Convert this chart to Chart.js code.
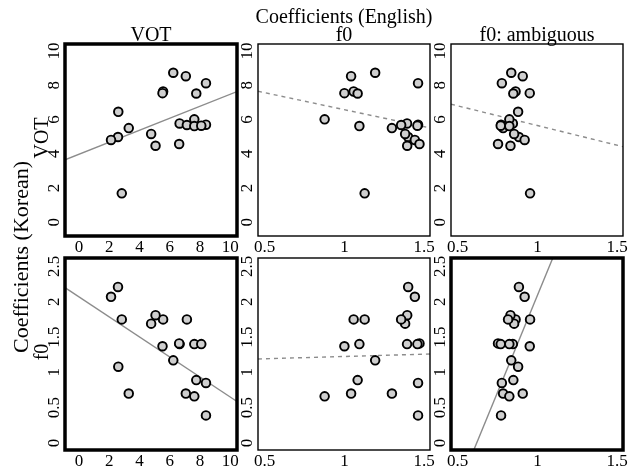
<!DOCTYPE html>
<html>
<head>
  <meta charset="utf-8">
  <title>Coefficients (English) vs Coefficients (Korean)</title>
  <script src="https://cdn.jsdelivr.net/npm/chart.js"></script>
  <style>
    html, body {
      margin: 0;
      padding: 0;
      background: #fff;
    }
    #wrap {
      position: relative;
      width: 640px;
      height: 472px;
    }
    .panel {
      position: absolute;
      left: 0;
      top: 0;
      width: 640px;
      height: 472px;
    }
  </style>
</head>
<body>
  <div id="wrap"></div>

  <script>
    // one entry per speaker (engF0 null = outside the plotted range)
    const engVOT   = [6.23, 7.06, 8.39, 8.39, 5.56, 5.52, 7.75, 2.60, 2.58, 2.12, 2.83, 3.29, 4.77, 5.06, 6.65, 6.62, 7.13, 7.62, 7.62, 8.08];
    const engF0    = [1.193, 1.042, 1.462, 1.462, 1.058, 1.000, 1.083, null, 1.400, 1.442, 1.127, 1.298, 1.381, 1.394, 1.393, 1.471, 1.356, 0.876, 1.094, 1.458];
    const engF0amb = [0.836, 0.908, 0.777, 0.772, 0.863, 0.952, 0.849, 0.879, 0.884, 0.920, 0.954, 0.785, 0.854, 0.831, 0.846, 0.753, 0.816, 0.824, 0.824, 0.770];
    const korVOT   = [8.73, 8.53, 8.12, 5.70, 7.64, 7.54, 7.52, 6.45, 4.98, 4.81, 1.69, 5.50, 5.16, 4.47, 5.77, 4.57, 5.68, 6.01, 5.62, 5.64];
    const korF0    = [1.17, 0.70, 0.85, 0.39, 1.75, 1.37, 0.89, 1.08, 2.21, 2.07, 1.75, 0.70, 1.69, 1.81, 1.40, 1.41, 1.75, 0.66, 1.40, 1.40];

    const colTitles = ['VOT', 'f0', 'f0: ambiguous'];
    const rowTitles = ['VOT', 'f0'];
    const votTicks = [0, 2, 4, 6, 8, 10];
    const engF0Ticks = [0.5, 1, 1.5];
    const korF0Ticks = [0, 0.5, 1, 1.5, 2, 2.5];

    // fitted lines: rows = Korean (VOT, f0), cols = English (VOT, f0, f0 ambiguous)
    const fitIntercept = [[3.97, 8.56, 7.95], [2.07, 1.16, -3.40]];
    const fitSlope = [[0.351, -1.985, -2.30], [-0.142, 0.065, 5.49]];
    const fitSignificant = [[true, false, false], [true, false, true]];

    const xValues = [engVOT, engF0, engF0amb];
    const yValues = [korVOT, korF0];
    const xTicks = [votTicks, engF0Ticks, engF0Ticks];
    const yTicks = [votTicks, korF0Ticks];
    const xRange = [[-0.92, 10.44], [0.458, 1.537], [0.458, 1.537]];
    const yRange = [[-0.8, 10.41], [-0.1, 2.62]];

    // panel frames in page pixels
    const colLeft = [65, 258, 451];
    const colRight = [237, 430, 623];
    const rowTop = [44, 258];
    const rowBottom = [236, 450];
    const AX = 24;

    const serif = '"Liberation Serif", "Times New Roman", serif';

    function framePlugin(r, c) {
      return {
        id: 'frame' + r + c,
        afterDraw(chart) {
          const ctx = chart.ctx;
          const a = chart.chartArea;
          const ys = chart.scales.y;
          ctx.save();
          ctx.font = '17px ' + serif;
          ctx.fillStyle = '#000';
          ctx.textAlign = 'center';
          ctx.textBaseline = 'middle';
          yTicks[r].forEach(v => {
            ctx.save();
            ctx.translate(a.left - 10, ys.getPixelForValue(v));
            ctx.rotate(-Math.PI / 2);
            ctx.fillText(String(v), 0, 0);
            ctx.restore();
          });
          ctx.strokeStyle = '#000';
          ctx.lineWidth = fitSignificant[r][c] ? 3.5 : 1.4;
          ctx.strokeRect(a.left, a.top, a.right - a.left, a.bottom - a.top);
          ctx.restore();
        }
      };
    }

    // figure labels, drawn once on the first canvas
    const labelPlugin = {
      id: 'labels',
      afterDraw(chart) {
        const ctx = chart.ctx;
        ctx.save();
        ctx.fillStyle = '#000';
        ctx.textAlign = 'center';
        ctx.textBaseline = 'alphabetic';
        ctx.font = '20px ' + serif;
        ctx.fillText('Coefficients (English)', (colLeft[1] + colRight[1]) / 2, 23);
        colTitles.forEach((t, c) => {
          ctx.fillText(t, (colLeft[c] + colRight[c]) / 2, 41);
        });
        rowTitles.forEach((t, r) => {
          ctx.save();
          ctx.translate(48, (rowTop[r] + rowBottom[r]) / 2 - 2);
          ctx.rotate(-Math.PI / 2);
          ctx.fillText(t, 0, 0);
          ctx.restore();
        });
        ctx.font = '22px ' + serif;
        ctx.save();
        ctx.translate(28, 257);
        ctx.rotate(-Math.PI / 2);
        ctx.fillText('Coefficients (Korean)', 0, 0);
        ctx.restore();
        ctx.restore();
      }
    };

    const wrap = document.getElementById('wrap');

    for (let r = 0; r < 2; r++) {
      for (let c = 0; c < 3; c++) {
        const div = document.createElement('div');
        div.className = 'panel';
        const canvas = document.createElement('canvas');
        div.appendChild(canvas);
        wrap.appendChild(div);

        const points = [];
        xValues[c].forEach((x, i) => {
          if (x !== null) points.push({ x: x, y: yValues[r][i] });
        });
        const a = fitIntercept[r][c];
        const b = fitSlope[r][c];
        const fit = xRange[c].map(x => ({ x: x, y: a + b * x }));

        const plugins = [framePlugin(r, c)];
        if (r === 0 && c === 0) plugins.push(labelPlugin);

        new Chart(canvas, {
          type: 'scatter',
          data: {
            datasets: [{
              data: points,
              pointRadius: 4.3,
              pointHoverRadius: 4.3,
              pointBackgroundColor: '#cfcfcf',
              pointBorderColor: '#000',
              pointBorderWidth: 1.9
            }, {
              data: fit,
              showLine: true,
              pointRadius: 0,
              borderColor: '#8c8c8c',
              borderWidth: 1.4,
              borderDash: fitSignificant[r][c] ? [] : [4, 4],
              clip: 0
            }]
          },
          options: {
            responsive: true,
            maintainAspectRatio: false,
            animation: false,
            events: [],
            layout: {
              padding: {
                left: colLeft[c],
                right: 640 - colRight[c],
                top: rowTop[r],
                bottom: 472 - rowBottom[r] - AX
              }
            },
            plugins: {
              legend: { display: false },
              tooltip: { enabled: false }
            },
            scales: {
              x: {
                type: 'linear',
                min: xRange[c][0],
                max: xRange[c][1],
                afterBuildTicks: s => { s.ticks = xTicks[c].map(v => ({ value: v })); },
                afterFit: s => { s.height = AX; },
                grid: { display: false, drawTicks: false },
                border: { display: false },
                ticks: {
                  color: '#000',
                  font: { family: serif, size: 17 },
                  padding: 1,
                  maxRotation: 0,
                  autoSkip: false,
                  callback: v => String(v)
                }
              },
              y: {
                type: 'linear',
                display: false,
                min: yRange[r][0],
                max: yRange[r][1]
              }
            }
          },
          plugins: plugins
        });
      }
    }
  </script>
</body>
</html>
